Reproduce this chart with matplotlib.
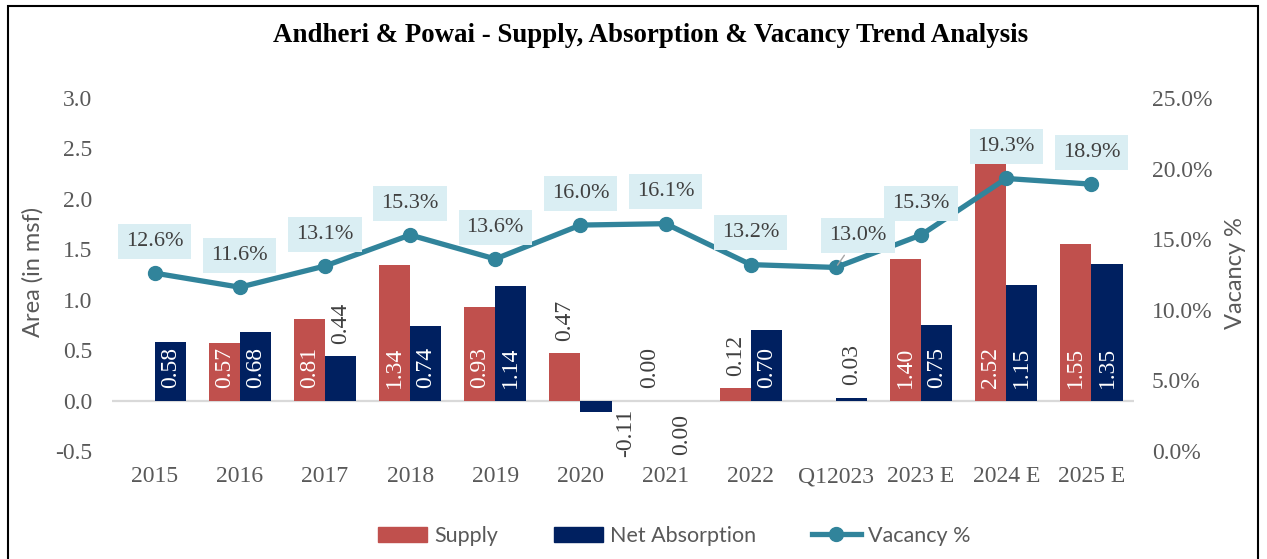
import numpy as np
import matplotlib
matplotlib.use("Agg")
import matplotlib.pyplot as plt
from matplotlib.patches import Rectangle
from matplotlib.lines import Line2D
from matplotlib.patches import Patch

# dados do gráfico
anos = ["2015", "2016", "2017", "2018", "2019", "2020", "2021", "2022",
        "Q12023", "2023 E", "2024 E", "2025 E"]
oferta = [np.nan, 0.57, 0.81, 1.34, 0.93, 0.47, 0.00, 0.12, np.nan, 1.40, 2.52, 1.55]
absorcao = [0.58, 0.68, 0.44, 0.74, 1.14, -0.11, 0.00, 0.70, 0.03, 0.75, 1.15, 1.35]
vacancia = [12.6, 11.6, 13.1, 15.3, 13.6, 16.0, 16.1, 13.2, 13.0, 15.3, 19.3, 18.9]

# cores
cor_oferta = "#C0504D"
cor_absorcao = "#002060"
cor_linha = "#31849B"
cor_caixa = "#DAEEF3"
cinza = "#595959"

serif = "Liberation Serif"
sans = "Lato"

fig = plt.figure(figsize=(12.67, 5.59), dpi=100)
ax = fig.add_axes([112 / 1267, 1 - 451 / 559, (1134 - 112) / 1267, (451 - 98) / 559])
ax2 = ax.twinx()

x = np.arange(len(anos))
largura = 0.365

ax.bar(x - largura / 2, oferta, largura, color=cor_oferta, zorder=2)
ax.bar(x + largura / 2, absorcao, largura, color=cor_absorcao, zorder=2)
ax.axhline(0, color="#D9D9D9", lw=1.6, zorder=1)

ax.set_xlim(-0.5, len(anos) - 0.5)
ax.set_ylim(-0.5, 3.0)
ax.set_yticks(np.arange(-0.5, 3.01, 0.5))
ax.set_yticklabels([f"{v:.1f}" for v in np.arange(-0.5, 3.01, 0.5)])
ax.set_xticks(x)
ax.set_xticklabels(anos)
ax.tick_params(axis="y", length=0, pad=14, labelsize=17, labelcolor=cinza)
ax.tick_params(axis="x", length=0, pad=11, labelsize=17, labelcolor=cinza)
for lbl in ax.get_xticklabels() + ax.get_yticklabels():
    lbl.set_fontfamily(serif)

# rótulos das barras
def rotular(xs, valores):
    for xi, v in zip(xs, valores):
        if np.isnan(v):
            continue
        txt = f"{v:.2f}"
        if v >= 0.5:
            ax.annotate(txt, (xi, 0), xytext=(0, 9), textcoords="offset points",
                        rotation=90, ha="center", va="bottom", color="white",
                        fontsize=17, family=serif, zorder=3)
        elif v > 0:
            ax.annotate(txt, (xi, v), xytext=(0, 9), textcoords="offset points",
                        rotation=90, ha="center", va="bottom", color="#404040",
                        fontsize=17, family=serif, zorder=3)

rotular(x - largura / 2, oferta)
rotular(x + largura / 2, absorcao)

# casos especiais: zeros e negativo
ax.annotate("0.00", (6 - largura / 2, 0), xytext=(0, 9), textcoords="offset points",
            rotation=90, ha="center", va="bottom", color="#404040", fontsize=17, family=serif)
ax.annotate("0.00", (6 + largura / 2, 0), xytext=(0, -10), textcoords="offset points",
            rotation=90, ha="center", va="top", color="#404040", fontsize=17, family=serif)
ax.annotate("-0.11", (5 + largura / 2, -0.11), xytext=(21, 2), textcoords="offset points",
            rotation=90, ha="center", va="top", color="#404040", fontsize=17, family=serif)

# linha de vacância
ax2.plot(x, vacancia, color=cor_linha, lw=3.8, marker="o", markersize=10, zorder=4)
ax2.set_ylim(0, 25)
ax2.set_yticks(np.arange(0, 25.1, 5))
ax2.set_yticklabels([f"{v:.1f}%" for v in np.arange(0, 25.1, 5)])
ax2.tick_params(axis="y", length=0, pad=13, labelsize=17, labelcolor=cinza)
for lbl in ax2.get_yticklabels():
    lbl.set_fontfamily(serif)

for i, v in enumerate(vacancia):
    dx = 16 if anos[i] == "Q12023" else 0
    props = dict(arrowstyle="-", color="#A6A6A6", lw=1) if dx else None
    ax2.annotate(f"{v:.1f}%", (i, v), xytext=(dx, 23), textcoords="offset points",
                 ha="center", va="center", fontsize=16, family=serif, color="#404040",
                 bbox=dict(boxstyle="square,pad=0.36", fc=cor_caixa, ec="none"),
                 arrowprops=props, zorder=5)

for a in (ax, ax2):
    for s in a.spines.values():
        s.set_visible(False)

# títulos
fig.text(651 / 1267, 1 - 36 / 559, "Andheri & Powai - Supply, Absorption & Vacancy Trend Analysis",
         ha="center", va="center", fontsize=19.4, fontweight="bold", family=serif)
fig.text(33 / 1267, 1 - 272 / 559, "Area (in msf)", rotation=90, ha="center", va="center",
         fontsize=17, family=sans, color=cinza)
fig.text(1236 / 1267, 1 - 273 / 559, "Vacancy %", rotation=90, ha="center", va="center",
         fontsize=17, family=sans, color=cinza)

# legenda
handles = [Patch(color=cor_oferta), Patch(color=cor_absorcao),
           Line2D([], [], color=cor_linha, lw=3.8, marker="o", markersize=10)]
fig.legend(handles, ["Supply", "Net Absorption", "Vacancy %"], loc="center",
           bbox_to_anchor=(674 / 1267, 1 - 536 / 559), ncol=3, frameon=False,
           handlelength=2.3, handletextpad=0.3, columnspacing=2.6,
           prop={"family": sans, "size": 15.5}, labelcolor=cinza)

# moldura
fig.add_artist(Rectangle((8 / 1267, -0.05), 1250 / 1267, 1.05 - 6 / 559,
                         transform=fig.transFigure, fill=False, ec="black", lw=1.5))

fig.savefig("out.png", dpi=100)
